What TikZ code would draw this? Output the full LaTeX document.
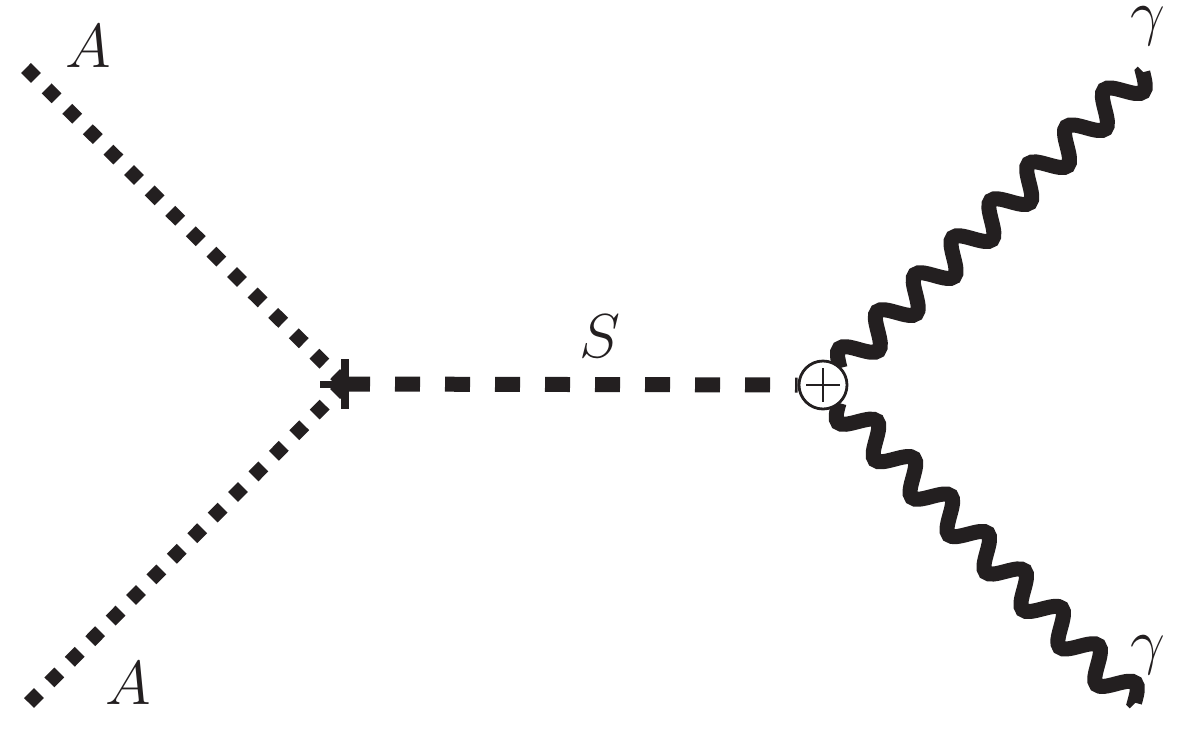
\RequirePackage{fix-cm}
\documentclass[tikz,border=0pt]{standalone}
\usetikzlibrary{decorations}
\definecolor{ink}{HTML}{231F20}
\pgfdeclaredecoration{phwave}{up}{
  \state{up}[switch if less than=+.4\pgfdecorationsegmentlength to final,
             width=+.5\pgfdecorationsegmentlength, next state=down]{
    \pgfpathcurveto
      {\pgfqpoint{.08359\pgfdecorationsegmentlength}{.5251\pgfdecorationsegmentamplitude}}
      {\pgfqpoint{.15915\pgfdecorationsegmentlength}{\pgfdecorationsegmentamplitude}}
      {\pgfqpoint{.25\pgfdecorationsegmentlength}{\pgfdecorationsegmentamplitude}}
    \pgfpathcurveto
      {\pgfqpoint{.34085\pgfdecorationsegmentlength}{\pgfdecorationsegmentamplitude}}
      {\pgfqpoint{.41641\pgfdecorationsegmentlength}{.5251\pgfdecorationsegmentamplitude}}
      {\pgfqpoint{.5\pgfdecorationsegmentlength}{0pt}}
  }
  \state{down}[switch if less than=+.4\pgfdecorationsegmentlength to final,
               width=+.5\pgfdecorationsegmentlength, next state=up]{
    \pgfpathcurveto
      {\pgfqpoint{.08359\pgfdecorationsegmentlength}{-.5251\pgfdecorationsegmentamplitude}}
      {\pgfqpoint{.15915\pgfdecorationsegmentlength}{-\pgfdecorationsegmentamplitude}}
      {\pgfqpoint{.25\pgfdecorationsegmentlength}{-\pgfdecorationsegmentamplitude}}
    \pgfpathcurveto
      {\pgfqpoint{.34085\pgfdecorationsegmentlength}{-\pgfdecorationsegmentamplitude}}
      {\pgfqpoint{.41641\pgfdecorationsegmentlength}{-.5251\pgfdecorationsegmentamplitude}}
      {\pgfqpoint{.5\pgfdecorationsegmentlength}{0pt}}
  }
  \state{final}{\pgfpathlineto{\pgfpointdecoratedpathlast}}
}
\begin{document}
\begin{tikzpicture}[x=1pt,y=-1pt,
  scalar/.style={ink, line width=15pt, dash pattern=on 25pt off 25pt},
  dotline/.style={ink, line width=14pt, dash pattern=on 14pt off 15pt},
  photon/.style={ink, line width=15pt, decorate,
    decoration={phwave, segment length=#1, amplitude=14.5pt}},
  photonr/.style={ink, line width=15pt, decorate,
    decoration={phwave, segment length=#1, amplitude=-14.5pt}},
  lbl/.style={inner sep=0pt, text=ink, font=\fontsize{62}{70}\selectfont},
  blob/.style={circle, draw=ink, line width=2.8pt, minimum size=48pt, inner sep=0pt, fill=white}]
\useasboundingbox (0,0) rectangle (1196,737);
% vertices and external points
\coordinate (V) at (345,384);
\coordinate (A1) at (25,67);
\coordinate (A2) at (27,705);
\coordinate (G1) at (1143,72);
\coordinate (G2) at (1135,703);
% lines
\draw[dotline] (V) -- (A1);
\draw[dotline] (V) -- (A2);
\fill[ink] (341,359) rectangle (349,409);
\fill[ink] (320,381) rectangle (335,388);
\coordinate (P1) at (840,368);
\coordinate (P2) at (839,403);
\draw[photon=52.9pt] (P1) -- (G1);
\draw[photonr=52.6pt] (P2) -- (G2);
\node[blob] (X) at (823,385) {};
\draw[scalar] (V) -- (X.west);
\draw[ink, line width=2.8pt] (X.center) ++(-17,0) -- ++(34,0);
\draw[ink, line width=2.8pt] (X.center) ++(0,-17) -- ++(0,34);
% labels
\node[lbl] (lA1) at (88,46) {$A$};
\node[lbl] (lA2) at (128,683) {$A$};
\node[lbl] (lS) at (600,336) {$S$};
\node[lbl] (lg1) at (1148,26) {$\gamma$};
\node[lbl] (lg2) at (1148,655) {$\gamma$};
\end{tikzpicture}
\end{document}
